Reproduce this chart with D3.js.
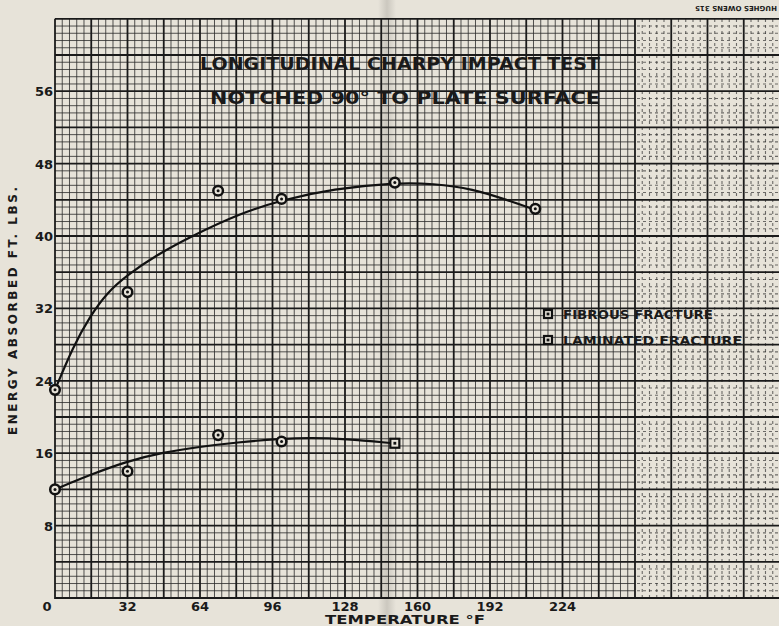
<!DOCTYPE html>
<html>
<head>
<meta charset="utf-8">
<script src="https://cdn.jsdelivr.net/npm/d3@7"></script>
<style>
  body { margin: 0; background: #e7e3d9; }
  svg { display: block; }
  text { font-family: "DejaVu Sans", sans-serif; font-weight: bold; fill: #1a1a1a; }
</style>
</head>
<body>
<div id="chart"></div>
<script>
// values
const temps = [0, 32, 72, 100, 150, 212];
const fibrous = [23.0, 33.8, 45.0, 44.1, 45.9, 43.0];
const lamTemps = [0, 32, 72, 100, 150];
const laminated = [12.0, 14.0, 18.0, 17.3, 17.1];
const lamShape = ["circle", "circle", "circle", "circle", "square"];

// hand drawn fit curves, traced point by point
const fibCurveX = [0, 8, 15.4, 22.8, 31.9, 44.9, 59.6, 81.6, 100.5, 122.8, 150, 166.9, 184.6, 199.3, 211.8];
const fibCurveY = [23.0, 27.8, 31.1, 33.7, 35.7, 37.9, 39.9, 42.5, 44.0, 45.2, 45.9, 45.8, 45.2, 44.0, 42.9];
const lamCurveX = [0, 15.4, 31.6, 47.8, 63.7, 80.2, 100, 112.5, 128, 149.2];
const lamCurveY = [12.0, 13.6, 15.1, 16.1, 16.7, 17.2, 17.6, 17.7, 17.6, 17.1];

const xTicks = [32, 64, 96, 128, 160, 192, 224];
const yTicks = [8, 16, 24, 32, 40, 48, 56];

const W = 779, H = 626;
const svg = d3.select("#chart").append("svg").attr("width", W).attr("height", H);

// paper scale: 16 deg per heavy square, 4 ft-lb per heavy square
const x = d3.scaleLinear().domain([0, 320]).range([55, 55 + 320 * 2.2656]);
const y = d3.scaleLinear().domain([0, 64]).range([598, 598 - 64 * 9.05]);

const defs = svg.append("defs");
defs.append("clipPath").attr("id", "leftPart")
  .append("rect").attr("x", 0).attr("y", 0).attr("width", 635).attr("height", H);
defs.append("clipPath").attr("id", "rightPart")
  .append("rect").attr("x", 635).attr("y", 0).attr("width", W - 635).attr("height", H);
const fold = defs.append("linearGradient").attr("id", "fold");
fold.append("stop").attr("offset", "0%").attr("stop-color", "#000").attr("stop-opacity", 0);
fold.append("stop").attr("offset", "50%").attr("stop-color", "#000").attr("stop-opacity", 0.12);
fold.append("stop").attr("offset", "100%").attr("stop-color", "#000").attr("stop-opacity", 0);

const x0 = x(0), x1 = W + 5, y0 = y(0), y1 = y(64);

// fine rulings
const fineX = d3.range(0, 321, 3.2).filter(v => Math.abs(v / 16 - Math.round(v / 16)) > 0.01);
const fineY = d3.range(0, 64.01, 0.8).filter(v => Math.abs(v / 4 - Math.round(v / 4)) > 0.01);

function fineLines(g) {
  g.selectAll("line.fx").data(fineX).join("line").attr("class", "fx")
    .attr("x1", d => x(d)).attr("x2", d => x(d)).attr("y1", y0).attr("y2", y1);
  g.selectAll("line.fy").data(fineY).join("line").attr("class", "fy")
    .attr("x1", x0).attr("x2", x1).attr("y1", d => y(d)).attr("y2", d => y(d));
}
svg.append("g").attr("clip-path", "url(#leftPart)")
  .attr("stroke", "#2a2a2a").attr("stroke-width", 1).attr("stroke-opacity", 0.8)
  .call(fineLines);
svg.append("g").attr("clip-path", "url(#rightPart)")
  .attr("stroke", "#2a2a2a").attr("stroke-width", 1.1).attr("stroke-opacity", 0.65)
  .attr("stroke-dasharray", "3,3")
  .call(fineLines);

// heavy rulings
const heavy = svg.append("g").attr("stroke", "#1a1a1a").attr("stroke-width", 1.8);
heavy.selectAll("line.hx").data(d3.range(0, 321, 16)).join("line").attr("class", "hx")
  .attr("x1", d => x(d)).attr("x2", d => x(d)).attr("y1", y0 + 1).attr("y2", y1);
heavy.selectAll("line.hy").data(d3.range(0, 64.01, 4)).join("line").attr("class", "hy")
  .attr("x1", x0).attr("x2", x1).attr("y1", d => y(d)).attr("y2", d => y(d));

// fold shadow in the middle of the sheet
svg.append("rect").attr("x", 378).attr("y", 0).attr("width", 18).attr("height", H)
  .attr("fill", "url(#fold)");

// fit curves
const line = d3.line().x(d => x(d[0])).y(d => y(d[1])).curve(d3.curveBasis);
svg.append("path").datum(d3.zip(fibCurveX, fibCurveY)).attr("d", line)
  .attr("fill", "none").attr("stroke", "#111").attr("stroke-width", 2.2);
svg.append("path").datum(d3.zip(lamCurveX, lamCurveY)).attr("d", line)
  .attr("fill", "none").attr("stroke", "#111").attr("stroke-width", 2.2);

// markers
function circleMark(g, cx, cy) {
  g.append("circle").attr("cx", cx).attr("cy", cy).attr("r", 4.8)
    .attr("fill", "#e7e3d9").attr("stroke", "#111").attr("stroke-width", 2.5);
  g.append("circle").attr("cx", cx).attr("cy", cy).attr("r", 1.5).attr("fill", "#111");
}
function squareMark(g, cx, cy, s) {
  g.append("rect").attr("x", cx - s / 2).attr("y", cy - s / 2).attr("width", s).attr("height", s)
    .attr("fill", "#e7e3d9").attr("stroke", "#111").attr("stroke-width", 2.2);
  g.append("rect").attr("x", cx - 1.4).attr("y", cy - 1.4).attr("width", 2.8).attr("height", 2.8)
    .attr("fill", "#111");
}
const marks = svg.append("g");
temps.forEach((t, i) => circleMark(marks, x(t), y(fibrous[i])));
lamTemps.forEach((t, i) => {
  if (lamShape[i] === "square") squareMark(marks, x(t), y(laminated[i]), 9);
  else circleMark(marks, x(t), y(laminated[i]));
});

// tick labels
svg.append("g").selectAll("text").data(yTicks).join("text")
  .attr("x", 53).attr("y", d => y(d) + 5)
  .attr("text-anchor", "end").attr("font-size", 13).text(d => d);
svg.append("g").selectAll("text").data(xTicks).join("text")
  .attr("x", d => x(d)).attr("y", 611)
  .attr("text-anchor", "middle").attr("font-size", 13).text(d => d);
svg.append("text").attr("x", 47).attr("y", 611).attr("text-anchor", "middle")
  .attr("font-size", 13).text("0");

// axis titles
svg.append("text").attr("x", 405).attr("y", 624).attr("text-anchor", "middle")
  .attr("font-size", 12).attr("textLength", 160).attr("lengthAdjust", "spacingAndGlyphs")
  .text("TEMPERATURE °F");
svg.append("text").attr("transform", "translate(17,311) rotate(-90)")
  .attr("text-anchor", "middle").attr("font-size", 12)
  .attr("textLength", 248).attr("lengthAdjust", "spacing")
  .text("ENERGY  ABSORBED  FT.  LBS.");

// title on the sheet
svg.append("text").attr("x", 200).attr("y", 70).attr("font-size", 18)
  .attr("textLength", 400).attr("lengthAdjust", "spacingAndGlyphs")
  .text("LONGITUDINAL  CHARPY  IMPACT  TEST");
svg.append("text").attr("x", 210).attr("y", 104).attr("font-size", 18)
  .attr("textLength", 390).attr("lengthAdjust", "spacingAndGlyphs")
  .text("NOTCHED  90°  TO  PLATE  SURFACE");

// legend
const legend = svg.append("g");
squareMark(legend, 548, 314, 8);
squareMark(legend, 548, 340, 8);
legend.append("text").attr("x", 563).attr("y", 319).attr("font-size", 11.5)
  .attr("textLength", 150).attr("lengthAdjust", "spacingAndGlyphs").text("FIBROUS  FRACTURE");
legend.append("text").attr("x", 563).attr("y", 345).attr("font-size", 11.5)
  .attr("textLength", 179).attr("lengthAdjust", "spacingAndGlyphs").text("LAMINATED  FRACTURE");

// printer's mark, upside down in the corner
svg.append("text").attr("transform", "translate(736,8) rotate(180)")
  .attr("text-anchor", "middle").attr("dominant-baseline", "middle")
  .attr("font-size", 7).text("HUGHES OWENS 315");
</script>
</body>
</html>
